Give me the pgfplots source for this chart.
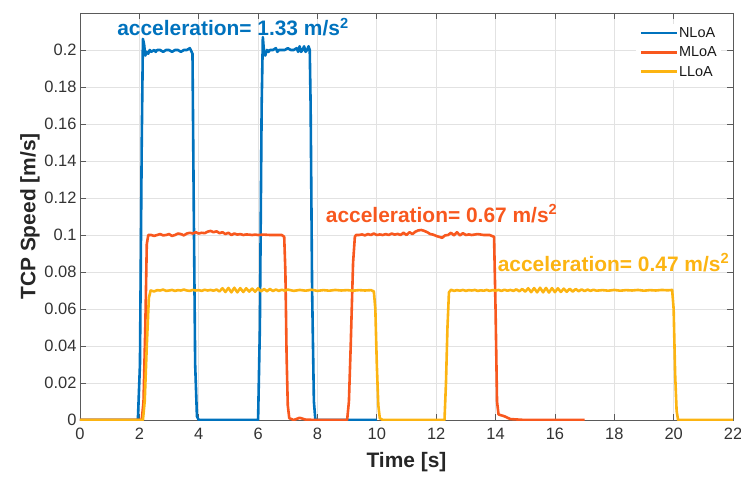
\documentclass[border=0pt]{standalone}
\usepackage{fontspec}
\setmainfont{Liberation Sans}
\setsansfont{Liberation Sans}
\usepackage{pgfplots}
\pgfplotsset{compat=1.18}

\definecolor{nloa}{RGB}{0,114,189}
\definecolor{mloa}{RGB}{248,88,30}
\definecolor{lloa}{RGB}{252,180,18}
\definecolor{gridgray}{RGB}{226,226,226}
\definecolor{axgray}{RGB}{90,90,90}

\begin{document}
\begin{tikzpicture}
\begin{axis}[
  scale only axis,
  width=653bp, height=407bp,
  xmin=0, xmax=22, ymin=0, ymax=0.22,
  xtick={0,2,...,22},
  ytick={0,0.02,...,0.2},
  yticklabels={0,0.02,0.04,0.06,0.08,0.1,0.12,0.14,0.16,0.18,0.2},
  /pgf/number format/assume math mode=true,
  tick label style={font=\fontsize{16.5}{18}\selectfont, text=black!80},
  xticklabel style={yshift=-5bp},
  grid=major,
  major grid style={color=gridgray, line width=0.8bp},
  axis line style={color=axgray, line width=0.9bp},
  major tick style={color=axgray, line width=0.8bp},
  major tick length=6bp,
  tick align=inside,
  every axis x label/.style={at={(axis description cs:0.5,-0.103)}, anchor=center},
  every axis y label/.style={at={(axis description cs:-0.0766,0.5)}, rotate=90, anchor=center},
  label style={font=\fontsize{21}{24}\selectfont\bfseries, text=black!85},
  xlabel={Time [s]},
  ylabel={TCP Speed [m/s]},
  legend style={at={(1,1)}, anchor=north east, xshift=-12bp, yshift=-11bp,
    draw=none, fill=white,
    inner xsep=3bp, inner ysep=2bp, row sep=6bp,
    nodes={inner sep=1bp, font=\fontsize{14.5}{16}\selectfont, text=black!90}},
  legend cell align=left,
  legend image code/.code={\draw[#1, line width=2.6bp] (0bp,0bp) -- (36bp,0bp);},
  every axis plot/.append style={line width=2.6bp, line join=round},
]

% NLoA: two pulses at 0.2 m/s
\addplot[color=nloa] coordinates {
(0,0) (1.95,0) (2.02,0.03) (2.08,0.15) (2.12,0.206) (2.16,0.203) (2.2,0.197)
(2.25,0.199) (2.3,0.198) (2.35,0.2) (2.4,0.199) (2.5,0.2) (2.55,0.199) (2.6,0.2)
(2.7,0.2) (2.8,0.199) (2.9,0.2) (3.0,0.2) (3.1,0.199) (3.2,0.2) (3.3,0.2)
(3.4,0.199) (3.5,0.2) (3.6,0.2) (3.7,0.201) (3.76,0.199) (3.79,0.198)
(3.83,0.12) (3.88,0.03) (3.94,0.002) (4.0,0) (6.0,0) (6.06,0.05) (6.12,0.17)
(6.16,0.207) (6.2,0.199) (6.24,0.197) (6.3,0.2) (6.35,0.199) (6.4,0.2) (6.5,0.2)
(6.6,0.201) (6.65,0.199) (6.7,0.2) (6.8,0.2) (6.9,0.2) (7.0,0.201) (7.1,0.2)
(7.2,0.2) (7.3,0.201) (7.35,0.199) (7.4,0.202) (7.45,0.199) (7.5,0.2)
(7.55,0.202) (7.6,0.199) (7.65,0.2) (7.7,0.202) (7.74,0.2) (7.77,0.17)
(7.82,0.07) (7.88,0.01) (7.93,0) (10,0)
};
\addlegendentry{NLoA}

% MLoA: two pulses at 0.1 m/s
\addplot[color=mloa] coordinates {
(0,0) (2.08,0) (2.14,0.01) (2.2,0.05) (2.25,0.095) (2.3,0.1) (2.4,0.1)
(2.5,0.0995) (2.6,0.1) (2.7,0.1005) (2.8,0.0998) (2.9,0.1) (3.0,0.1005)
(3.1,0.0995) (3.2,0.1) (3.3,0.1008) (3.4,0.1005) (3.5,0.0998) (3.6,0.1008)
(3.7,0.1012) (3.8,0.1008) (3.9,0.1015) (4.0,0.1008) (4.1,0.1012) (4.2,0.101)
(4.3,0.1018) (4.4,0.1022) (4.5,0.1015) (4.6,0.102) (4.7,0.101) (4.8,0.1015)
(4.9,0.1005) (5.0,0.1012) (5.1,0.1) (5.2,0.1008) (5.3,0.1002) (5.4,0.1005)
(5.5,0.1) (5.6,0.1003) (5.7,0.1002) (5.8,0.1) (5.9,0.1002) (6.0,0.1)
(6.2,0.1002) (6.4,0.1) (6.6,0.1) (6.8,0.1) (6.88,0.099) (6.92,0.08)
(6.96,0.035) (7.0,0.008) (7.05,0.001) (7.2,0) (7.4,0.0012) (7.6,0.0002)
(8.0,0) (9.0,0) (9.06,0.01) (9.12,0.04) (9.2,0.085) (9.26,0.099) (9.3,0.1)
(9.4,0.1) (9.5,0.1003) (9.6,0.0998) (9.7,0.1005) (9.8,0.1) (9.9,0.1008)
(10.0,0.1) (10.1,0.1003) (10.2,0.1) (10.3,0.1005) (10.4,0.1) (10.5,0.1008)
(10.6,0.1002) (10.7,0.1006) (10.8,0.1) (10.9,0.1012) (11.0,0.1) (11.1,0.1015)
(11.2,0.1005) (11.3,0.1018) (11.4,0.1025) (11.5,0.1027) (11.6,0.1022)
(11.7,0.1015) (11.8,0.1005) (11.9,0.1002) (12.0,0.0995) (12.1,0.099)
(12.2,0.0985) (12.3,0.0998) (12.4,0.1) (12.5,0.1012) (12.6,0.0998)
(12.7,0.1015) (12.8,0.0998) (12.9,0.101) (13.0,0.1) (13.1,0.1003) (13.2,0.1)
(13.4,0.1005) (13.6,0.1) (13.8,0.1) (13.95,0.099) (14.0,0.06) (14.05,0.01)
(14.1,0.003) (14.3,0.002) (14.5,0.0005) (15,0) (17,0)
};
\addlegendentry{MLoA}

% LLoA: two pulses at 0.07 m/s
\addplot[color=lloa] coordinates {
(0,0) (2.12,0) (2.18,0.01) (2.25,0.04) (2.32,0.066) (2.38,0.07) (2.5,0.0695)
(2.6,0.0702) (2.7,0.07) (2.8,0.0705) (2.9,0.0698) (3.0,0.07) (3.1,0.0703)
(3.2,0.0698) (3.3,0.0702) (3.4,0.07) (3.5,0.0705) (3.6,0.07) (3.7,0.0698)
(3.8,0.0703) (3.9,0.07) (4.0,0.0702) (4.1,0.0698) (4.2,0.0704) (4.3,0.07)
(4.4,0.0703) (4.5,0.0699) (4.6,0.0705) (4.7,0.0695) (4.8,0.0712) (4.9,0.0692)
(5.0,0.0714) (5.1,0.069) (5.2,0.0715) (5.3,0.069) (5.4,0.0713) (5.5,0.0692)
(5.6,0.0712) (5.7,0.0694) (5.8,0.071) (5.9,0.0693) (6.0,0.0712) (6.1,0.0695)
(6.2,0.0708) (6.3,0.0696) (6.4,0.0708) (6.5,0.0697) (6.6,0.0705) (6.7,0.0698)
(6.8,0.0704) (6.9,0.0699) (7.0,0.0705) (7.2,0.0698) (7.4,0.0703) (7.6,0.0699)
(7.8,0.0704) (8.0,0.0698) (8.2,0.0702) (8.4,0.0699) (8.6,0.0703) (8.8,0.07)
(9.0,0.0702) (9.2,0.0699) (9.4,0.0702) (9.6,0.07) (9.8,0.0702) (9.9,0.0695)
(9.95,0.06) (10.0,0.03) (10.05,0.008) (10.1,0.001) (10.2,0) (12.28,0)
(12.33,0.02) (12.38,0.05) (12.43,0.069) (12.5,0.0704) (12.6,0.0698)
(12.7,0.0702) (12.8,0.0699) (12.9,0.0703) (13.0,0.0698) (13.1,0.0702)
(13.2,0.07) (13.3,0.0703) (13.4,0.0698) (13.5,0.0701) (13.6,0.0699)
(13.7,0.0703) (13.8,0.0698) (13.9,0.0702) (14.0,0.0699) (14.1,0.0703)
(14.2,0.0698) (14.3,0.0704) (14.4,0.0699) (14.5,0.0703) (14.6,0.0698)
(14.7,0.0706) (14.8,0.0696) (14.9,0.0708) (15.0,0.0694) (15.1,0.0712)
(15.2,0.0691) (15.3,0.0713) (15.4,0.069) (15.5,0.0715) (15.6,0.069)
(15.7,0.0714) (15.8,0.0689) (15.9,0.0713) (16.0,0.0691) (16.1,0.0712)
(16.2,0.0692) (16.3,0.071) (16.4,0.0693) (16.5,0.0709) (16.6,0.0694)
(16.7,0.0708) (16.8,0.0696) (16.9,0.0706) (17.0,0.0697) (17.1,0.0705)
(17.2,0.0698) (17.3,0.0704) (17.4,0.0699) (17.6,0.0702) (17.8,0.0699)
(18.0,0.0703) (18.2,0.0699) (18.4,0.0702) (18.6,0.07) (18.8,0.0703)
(19.0,0.0699) (19.2,0.0702) (19.4,0.07) (19.6,0.0703) (19.8,0.0701)
(19.95,0.0703) (20.0,0.06) (20.05,0.025) (20.1,0.005) (20.15,0) (22,0)
};
\addlegendentry{LLoA}

\node[anchor=base west, text=nloa, font=\fontsize{21}{24}\selectfont\bfseries, inner sep=0pt]
  at (axis cs:1.25,0.2076) {acceleration= 1.33 m/s\textsuperscript{2}};
\node[anchor=base west, text=mloa, font=\fontsize{21}{24}\selectfont\bfseries, inner sep=0pt]
  at (axis cs:8.28,0.107) {acceleration= 0.67 m/s\textsuperscript{2}};
\node[anchor=base west, text=lloa, font=\fontsize{21}{24}\selectfont\bfseries, inner sep=0pt]
  at (axis cs:14.07,0.0805) {acceleration= 0.47 m/s\textsuperscript{2}};
\end{axis}
\path (current axis.south west) ++(-80bp,-57bp) coordinate (bbsw);
\path (current axis.north east) ++(8bp,13bp) coordinate (bbne);
\pgfresetboundingbox
\path[use as bounding box] (bbsw) rectangle (bbne);
\end{tikzpicture}
\end{document}
